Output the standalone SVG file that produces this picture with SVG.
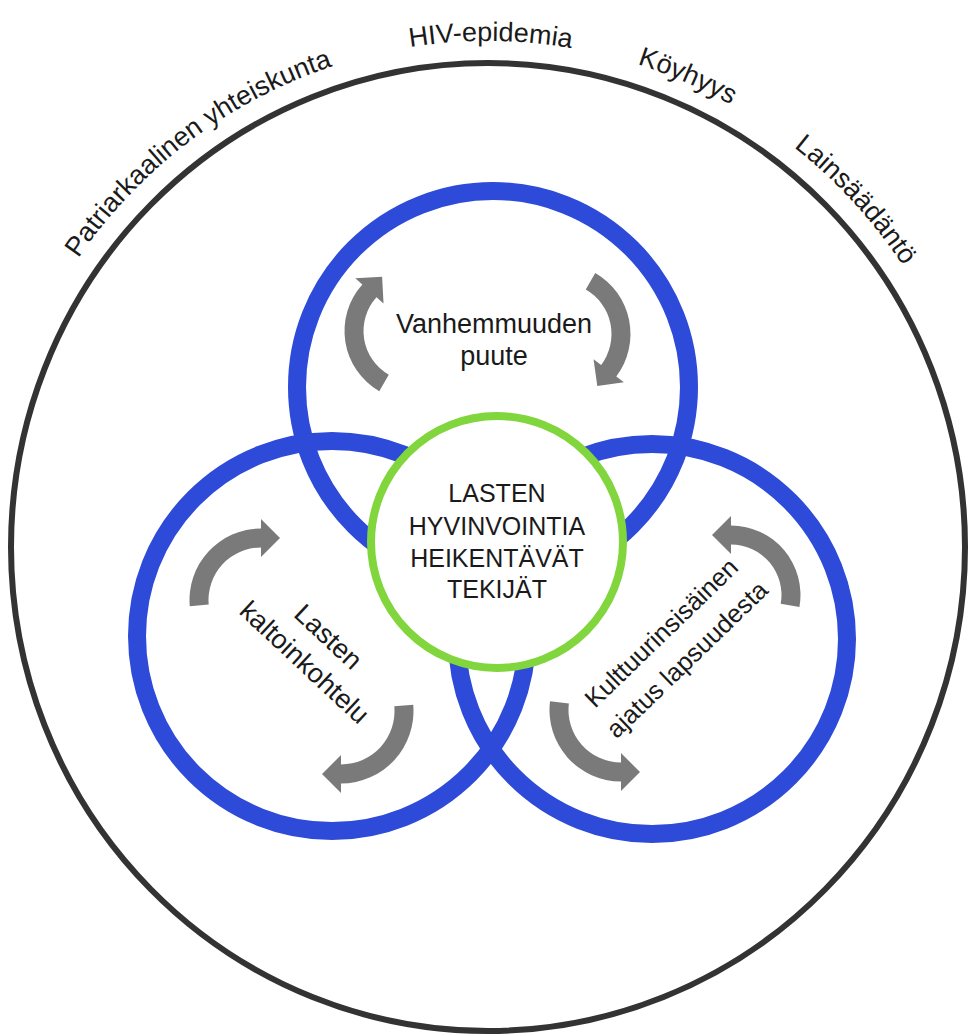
<svg xmlns="http://www.w3.org/2000/svg" width="971" height="1036" viewBox="0 0 971 1036">
  <defs>
    <path id="outerArc" d="M -11,547 A 499,506 0 0 1 987,547"/>
  </defs>
  <style>
    .outer { fill: none; stroke: #333333; stroke-width: 6; }
    .blue { fill: none; stroke: #2e4ad8; stroke-width: 18; }
    .green { fill: #ffffff; stroke: #80d63c; stroke-width: 8; }
    .arrow { fill: #7a7a7a; stroke: none; }
    .lbl { font-family: "Liberation Sans", Arial, sans-serif; fill: #1a1a1a; text-anchor: middle; }
    .ring { font-size: 27px; }
    .sub { font-size: 27px; }
    .subr { font-size: 25.5px; }
    .core { font-size: 25px; }
  </style>
  <rect width="971" height="1036" fill="#ffffff"/>

  <g id="context">
    <ellipse class="outer" cx="488" cy="547" rx="477" ry="484"/>
    <text class="lbl ring"><textPath href="#outerArc" startOffset="469" text-anchor="middle">Patriarkaalinen yhteiskunta</textPath></text>
    <text class="lbl ring"><textPath href="#outerArc" startOffset="792" text-anchor="middle">HIV-epidemia</textPath></text>
    <text class="lbl ring"><textPath href="#outerArc" startOffset="992" text-anchor="middle">Köyhyys</textPath></text>
    <text class="lbl ring"><textPath href="#outerArc" startOffset="1200" text-anchor="middle">Lainsäädäntö</textPath></text>
  </g>

  <g id="node-top">
    <circle class="blue" cx="493" cy="387" r="196"/>
    <text class="lbl sub" x="494" y="333">Vanhemmuuden</text>
    <text class="lbl sub" x="494" y="365">puute</text>
  </g>

  <g id="node-left">
    <circle class="blue" cx="332" cy="636" r="195"/>
    <g transform="translate(316,650) rotate(43)">
      <text class="lbl sub" x="0" y="-9">Lasten</text>
      <text class="lbl sub" x="0" y="26">kaltoinkohtelu</text>
    </g>
  </g>

  <g id="node-right">
    <circle class="blue" cx="652" cy="639" r="195"/>
    <g transform="translate(675,647) rotate(-44)">
      <text class="lbl subr" x="0" y="-11">Kulttuurinsisäinen</text>
      <text class="lbl subr" x="0" y="26">ajatus lapsuudesta</text>
    </g>
  </g>

  <g id="connectors">
    <path class="arrow" d="M388.75,374.73 L379.25,391.19 A69.5,69.5 0 0 1 362.35,284.5 L355.29,278.14 L382.12,276.73 L383.53,303.57 L376.47,297.21 A50.5,50.5 0 0 0 388.75,374.73 Z"/>
    <path class="arrow" d="M585.75,289.4 L595.25,272.95 A70.5,70.5 0 0 1 616.3,376.43 L623.89,382.15 L597.29,385.88 L593.54,359.28 L601.13,364.99 A51.5,51.5 0 0 0 585.75,289.4 Z"/>
    <path class="arrow" d="M208.7,604.58 L189.77,606.23 A71.5,71.5 0 0 1 261,528.5 L261,519 L280,538 L261,557 L261,547.5 A52.5,52.5 0 0 0 208.7,604.58 Z"/>
    <path class="arrow" d="M394.3,706.34 L413.22,704.68 A72.5,72.5 0 0 1 341,783.5 L341,793 L322,774 L341,755 L341,764.5 A53.5,53.5 0 0 0 394.3,706.34 Z"/>
    <path class="arrow" d="M568.89,703.6 L550.03,701.29 A71.5,71.5 0 0 0 621,781.5 L621,791 L640,772 L621,753 L621,762.5 A52.5,52.5 0 0 1 568.89,703.6 Z"/>
    <path class="arrow" d="M780.73,603.77 L799.44,607.07 A69.5,69.5 0 0 0 731,525.5 L731,516 L712,535 L731,554 L731,544.5 A50.5,50.5 0 0 1 780.73,603.77 Z"/>
  </g>

  <g id="node-center">
    <circle class="green" cx="497" cy="542" r="126"/>
    <text class="lbl core" x="497" y="502">LASTEN</text>
    <text class="lbl core" x="497" y="535">HYVINVOINTIA</text>
    <text class="lbl core" x="497" y="567">HEIKENTÄVÄT</text>
    <text class="lbl core" x="497" y="598">TEKIJÄT</text>
  </g>
</svg>
